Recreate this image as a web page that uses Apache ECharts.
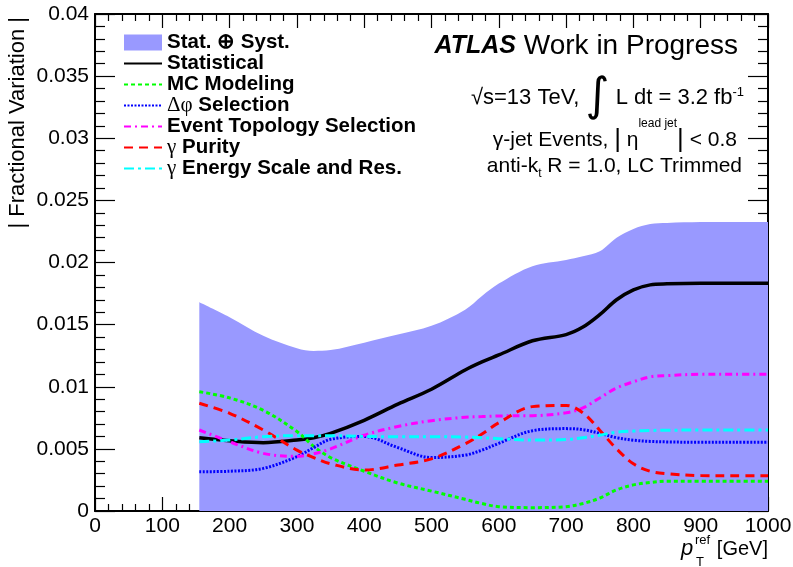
<!DOCTYPE html>
<html>
<head>
<meta charset="utf-8">
<script src="https://cdn.jsdelivr.net/npm/echarts@6/dist/echarts.min.js"></script>
<style>
  html, body { margin: 0; padding: 0; background: #fff; }
  #chart { width: 793px; height: 567px; }
</style>
</head>
<body>
<div id="chart"></div>
<script>
// ---- data ----
var ptRef       = [155,     200,     250,     300,     325,     350,     400,     450,     500,     550,     575,     600,     650,     700,     725,     750,     775,     800,     825,     850,     900,     950,     1000];
var statSyst    = [0.0168,  0.0156,  0.0141,  0.0131,  0.01288, 0.01295, 0.01355, 0.0142,  0.0149,  0.0162,  0.0173,  0.0183,  0.0197,  0.0202,  0.0205,  0.0209,  0.0220,  0.0227,  0.0231,  0.02318, 0.02325, 0.02326, 0.02326];
var statistical = [0.0059,  0.00566, 0.0055,  0.00571, 0.0059,  0.00625, 0.0073,  0.0086,  0.0098,  0.01135, 0.0120,  0.01256, 0.0137,  0.0142,  0.0148,  0.0158,  0.0170,  0.0178,  0.0182,  0.01828, 0.01832, 0.01832, 0.01832];
var mcModeling  = [0.0096,  0.0091,  0.0081,  0.0064,  0.0052,  0.0043,  0.0032,  0.00225, 0.0016,  0.00094, 0.0006,  0.00035, 0.00027, 0.00035, 0.0006,  0.00104, 0.0017,  0.0021,  0.0023,  0.0024,  0.0024,  0.0024,  0.0024];
var dphiSel     = [0.00316, 0.0032,  0.00343, 0.00437, 0.0051,  0.00577, 0.0060,  0.0051,  0.0043,  0.0045,  0.0049,  0.00545, 0.00646, 0.00663, 0.00655, 0.00625, 0.0059,  0.0057,  0.0056,  0.00556, 0.00553, 0.00553, 0.00553];
var topoSel     = [0.00652, 0.00558, 0.00464, 0.0044,  0.0046,  0.0050,  0.0061,  0.0068,  0.00727, 0.00754, 0.0076,  0.00765, 0.00767, 0.0079,  0.0083,  0.0091,  0.0099,  0.0104,  0.0108,  0.0109,  0.0110,  0.0110,  0.0110];
var gammaPurity = [0.00867, 0.00786, 0.00652, 0.0049,  0.0043,  0.0038,  0.0033,  0.0037,  0.0042,  0.0054,  0.0062,  0.0071,  0.0084,  0.0085,  0.0079,  0.0065,  0.0050,  0.0038,  0.0032,  0.0030,  0.00285, 0.00284, 0.00284];
var gammaEnergy = [0.00558, 0.00571, 0.00598, 0.00606, 0.00606, 0.00606, 0.0060,  0.00598, 0.00598, 0.00595, 0.0059,  0.00582, 0.00571, 0.00575, 0.0059,  0.0061,  0.00635, 0.00643, 0.00648, 0.0065,  0.00652, 0.00652, 0.00652];

var seriesNames = ['Stat. ⊕ Syst.', 'Statistical', 'MC Modeling', 'Δφ Selection', 'Event Topology Selection', 'γ Purity', 'γ Energy Scale and Res.'];
var xTicks = { min: 0, max: 1000, interval: 100 };
var yTicks = { min: 0, max: 0.04, interval: 0.005 };

// ---- chart ----
var FONT = 'Liberation Sans, Arial, Helvetica, sans-serif';
var SMOOTH = 0.35;
var chart = echarts.init(document.getElementById('chart'), null, { renderer: 'canvas' });

function pairs(vals) { return ptRef.map(function (x, i) { return [x, vals[i]]; }); }

function lineSeries(name, vals, color, type, width) {
  return {
    name: name, type: 'line', data: pairs(vals), smooth: SMOOTH, symbol: 'none',
    lineStyle: { color: color, width: width, type: type },
    itemStyle: { color: color }, emphasis: { disabled: true }
  };
}

function xAxisCfg(pos, showLabel) {
  return {
    type: 'value', position: pos, min: xTicks.min, max: xTicks.max, interval: xTicks.interval,
    axisLine: { show: true, onZero: false, lineStyle: { color: '#000', width: 2 } },
    axisTick: { show: true, inside: true, length: 14, lineStyle: { color: '#000', width: 1.2 } },
    minorTick: { show: true, splitNumber: 5, length: 7, lineStyle: { color: '#000', width: 1.2 } },
    splitLine: { show: false }, minorSplitLine: { show: false },
    axisLabel: { show: showLabel, color: '#000', fontSize: 21, fontFamily: FONT, margin: 5,
      formatter: function (v) { return String(v); } }
  };
}
function yAxisCfg(pos, showLabel) {
  return {
    type: 'value', position: pos, min: yTicks.min, max: yTicks.max, interval: yTicks.interval,
    axisLine: { show: true, onZero: false, lineStyle: { color: '#000', width: 2 } },
    axisTick: { show: true, inside: true, length: 20, lineStyle: { color: '#000', width: 1.2 } },
    minorTick: { show: true, splitNumber: 5, length: 10, lineStyle: { color: '#000', width: 1.2 } },
    splitLine: { show: false }, minorSplitLine: { show: false },
    axisLabel: {
      show: showLabel, color: '#000', fontSize: 21, fontFamily: FONT, margin: 6,
      formatter: function (v) { return v === 0 ? '0' : String(parseFloat(v.toFixed(4))); }
    }
  };
}

var T = function (o) {
  o.style.align = o.style.textAlign; o.style.verticalAlign = o.style.textVerticalAlign;
  o.type = 'text'; o.z = 100; return o;
};

var option = {
  animation: false,
  backgroundColor: '#fff',
  grid: { left: 95, right: 25, top: 14, bottom: 56, containLabel: false, outerBoundsMode: 'none' },
  xAxis: [xAxisCfg('bottom', true), xAxisCfg('top', false)],
  yAxis: [yAxisCfg('left', true), yAxisCfg('right', false)],
  legend: {
    orient: 'vertical', left: 123, top: 32, itemWidth: 38, itemHeight: 16, itemGap: 0,
    padding: 0, selectedMode: false,
    itemStyle: { opacity: 0 },
    textStyle: {
      color: '#000', fontSize: 20.5, fontWeight: 'bold', fontFamily: FONT,
      rich: {
        g: { fontWeight: 'normal', fontSize: 21, fontFamily: 'Liberation Serif, serif', color: '#000' },
        t: { fontWeight: 'bold', fontSize: 20.5, fontFamily: FONT, color: '#000' }
      }
    },
    formatter: function (name) {
      if (name.indexOf('Δφ') === 0) return '{g|Δφ}{t|' + name.slice(2) + '}';
      if (name.indexOf('γ') === 0) return '{g|γ}{t|' + name.slice(1) + '}';
      return name;
    },
    data: [
      { name: seriesNames[0], icon: 'rect', itemStyle: { color: '#9999ff', opacity: 1 } },
      seriesNames[1], seriesNames[2], seriesNames[3], seriesNames[4], seriesNames[5], seriesNames[6]
    ]
  },
  series: [
    {
      name: seriesNames[0], type: 'line', data: pairs(statSyst), smooth: SMOOTH, symbol: 'none',
      lineStyle: { width: 0, color: '#9999ff' }, itemStyle: { color: '#9999ff' },
      areaStyle: { color: '#9999ff', opacity: 1 }, emphasis: { disabled: true }
    },
    lineSeries(seriesNames[1], statistical, '#000000', 'solid', 3.5),
    lineSeries(seriesNames[2], mcModeling, '#00ff00', [4, 3], 3),
    lineSeries(seriesNames[3], dphiSel, '#0000ff', [2, 1.5], 3),
    lineSeries(seriesNames[4], topoSel, '#ff00ff', [7, 4, 2, 4], 3),
    lineSeries(seriesNames[5], gammaPurity, '#ff0000', [9, 6], 3),
    lineSeries(seriesNames[6], gammaEnergy, '#00ffff', [10, 4, 3, 4], 3)
  ],
  graphic: [
    T({ x: 738, y: 46, style: {
      text: '{a|ATLAS}{b| Work in Progress}', textAlign: 'right', textVerticalAlign: 'middle', fill: '#000',
      rich: {
        a: { fontSize: 25, fontWeight: 'bold', fontStyle: 'italic', fontFamily: FONT, fill: '#000' },
        b: { fontSize: 28, fontFamily: FONT, fill: '#000' }
      } } }),
    T({ x: 744, y: 98, style: {
      text: '{n|√s=13 TeV, }{i|∫}{n| L dt = 3.2 fb}{s|-1}', textAlign: 'right', textVerticalAlign: 'middle', fill: '#000',
      rich: {
        n: { fontSize: 22, fontFamily: FONT, fill: '#000' },
        i: { fontSize: 46, fontFamily: 'DejaVu Sans', fill: '#000' },
        s: { fontSize: 13, fontFamily: FONT, fill: '#000', padding: [0, 0, 12, 0] }
      } } }),
    T({ x: 737, y: 140, style: {
      text: '{n|γ-jet Events, }{b||}{n| η}{s|lead jet}{b||}{n| < 0.8}', textAlign: 'right', textVerticalAlign: 'middle', fill: '#000',
      rich: {
        n: { fontSize: 21, fontFamily: FONT, fill: '#000' },
        b: { fontSize: 26, fontFamily: FONT, fill: '#000' },
        s: { fontSize: 12, fontFamily: FONT, fill: '#000', padding: [0, 0, 32, 0] }
      } } }),
    T({ x: 742, y: 166, style: {
      text: '{n|anti-k}{s|t}{n| R = 1.0, LC Trimmed}', textAlign: 'right', textVerticalAlign: 'middle', fill: '#000',
      rich: {
        n: { fontSize: 21, fontFamily: FONT, fill: '#000' },
        s: { fontSize: 12, fontFamily: FONT, fill: '#000', padding: [16, 0, 0, 0] }
      } } }),
    // y-axis title
    T({ x: 18, y: 17, rotation: Math.PI / 2, style: {
      text: '| Fractional Variation |', textAlign: 'right', textVerticalAlign: 'middle',
      fontSize: 22, fontFamily: FONT, fill: '#000' } }),
    // x-axis title
    T({ x: 768, y: 549, style: { text: '[GeV]', textAlign: 'right', textVerticalAlign: 'middle',
      fontSize: 20, fontFamily: FONT, fill: '#000' } }),
    T({ x: 681, y: 549, style: { text: 'p', textAlign: 'left', textVerticalAlign: 'middle',
      fontSize: 22, fontStyle: 'italic', fontFamily: FONT, fill: '#000' } }),
    T({ x: 695, y: 540, style: { text: 'ref', textAlign: 'left', textVerticalAlign: 'middle',
      fontSize: 13, fontFamily: FONT, fill: '#000' } }),
    T({ x: 696, y: 562, style: { text: 'T', textAlign: 'left', textVerticalAlign: 'middle',
      fontSize: 13, fontFamily: FONT, fill: '#000' } })
  ]
};
chart.setOption(option);
</script>
</body>
</html>
